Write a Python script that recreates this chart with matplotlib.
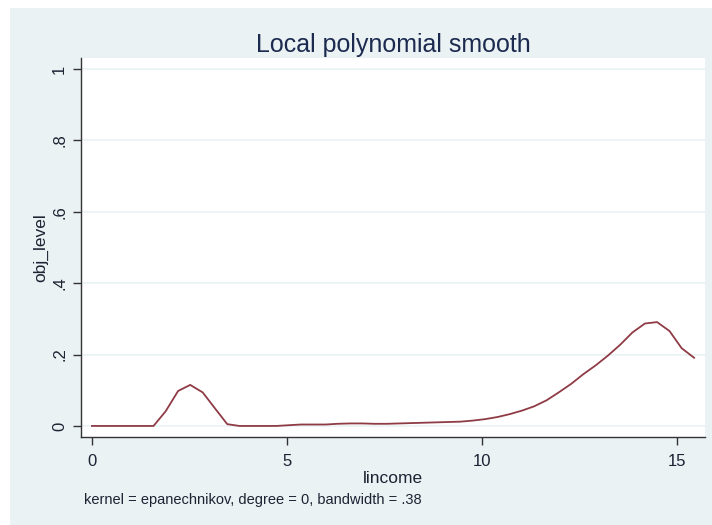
import matplotlib.pyplot as plt
from matplotlib.patches import Rectangle

plt.rcParams['font.family'] = ['Liberation Sans', 'DejaVu Sans']

# lpoly grid (50 points) and smoothed values
lincome = [0.00, 0.32, 0.63, 0.95, 1.26, 1.58, 1.89, 2.21, 2.52, 2.84,
           3.15, 3.47, 3.78, 4.10, 4.41, 4.73, 5.04, 5.36, 5.67, 5.99,
           6.30, 6.62, 6.93, 7.25, 7.56, 7.88, 8.19, 8.51, 8.82, 9.14,
           9.45, 9.77, 10.08, 10.40, 10.71, 11.03, 11.34, 11.66, 11.97, 12.29,
           12.60, 12.92, 13.23, 13.55, 13.86, 14.18, 14.49, 14.81, 15.12, 15.44]
obj_level = [0.0, 0.0, 0.0, 0.0, 0.0, 0.0, 0.041, 0.098, 0.115, 0.094,
             0.050, 0.005, 0.0, 0.0, 0.0, 0.0, 0.002, 0.004, 0.004, 0.004,
             0.006, 0.007, 0.007, 0.006, 0.006, 0.007, 0.008, 0.009, 0.010, 0.011,
             0.012, 0.015, 0.019, 0.025, 0.033, 0.043, 0.055, 0.072, 0.094, 0.118,
             0.145, 0.170, 0.197, 0.228, 0.262, 0.287, 0.291, 0.266, 0.218, 0.191]

xticks = [0, 5, 10, 15]
yticks = [0, 0.2, 0.4, 0.6, 0.8, 1]
ytick_labels = ['0', '.2', '.4', '.6', '.8', '1']

bg = '#EAF2F3'
txt = '#1E2233'

fig = plt.figure(figsize=(7.12, 5.25), dpi=100)
fig.patch.set_facecolor('white')
# graph region (stata style), white strip at left/top
fig.patches.append(Rectangle((10 / 712, 0), 1, 1 - 8 / 525, transform=fig.transFigure,
                             facecolor=bg, edgecolor='none', zorder=-10))

ax = fig.add_axes([81 / 712, 88 / 525, 624 / 712, 379 / 525])
ax.set_facecolor('white')

ax.plot(lincome, obj_level, color='#8F3B45', lw=1.3, zorder=3)

ax.set_xlim(-0.28, 15.72)
ax.set_ylim(-0.031, 1.031)
ax.set_xticks(xticks)
ax.set_yticks(yticks)
ax.set_yticklabels(ytick_labels, rotation=90, va='center')
ax.grid(axis='y', color=bg, lw=1.2)
ax.set_axisbelow(True)

for s in ['top', 'right']:
    ax.spines[s].set_visible(False)
for s in ['left', 'bottom']:
    ax.spines[s].set_color('#333333')
    ax.spines[s].set_linewidth(1.0)

ax.tick_params(axis='both', direction='out', length=6, width=1.0, color='#333333',
               labelsize=12, labelcolor=txt)
ax.tick_params(axis='y', pad=4)
ax.tick_params(axis='x', pad=6)

ax.set_xlabel('lincome', fontsize=12.5, color=txt, labelpad=2)
ax.set_ylabel('obj_level', fontsize=12.5, color=txt, labelpad=3)
ax.set_title('Local polynomial smooth', fontsize=18, color='#1C2A50', pad=4)

fig.text(84 / 712, 1 - 500 / 525, 'kernel = epanechnikov, degree = 0, bandwidth = .38',
         fontsize=10.5, color=txt, va='center', ha='left')

fig.savefig('out.png', dpi=100)
